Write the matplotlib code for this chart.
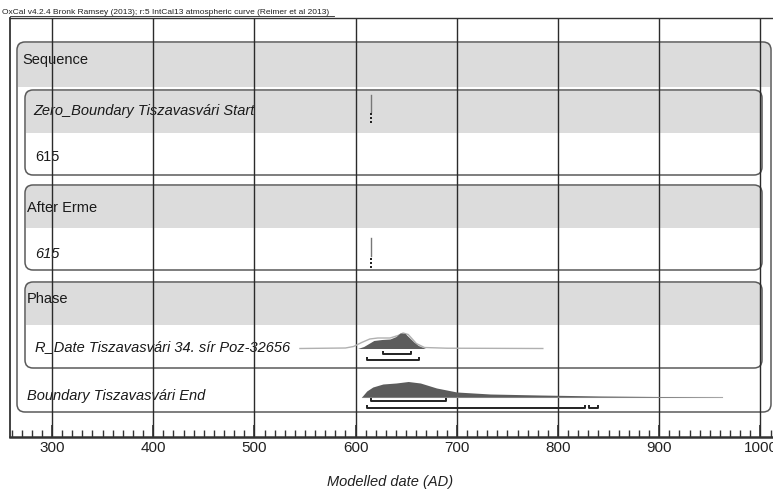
import matplotlib.pyplot as plt
from matplotlib.patches import FancyBboxPatch, Rectangle
import numpy as np

plt.rcParams['font.family'] = ['Liberation Sans', 'DejaVu Sans']

# ---- data ----
row_labels = ['Sequence', 'Zero_Boundary Tiszavasvári Start', '615', 'After Erme',
              '615', 'Phase', 'R_Date Tiszavasvári 34. sír Poz-32656',
              'Boundary Tiszavasvári End']
fixed_date = 615

# R_Date posterior (AD, relative height)
rdate_x = [602, 608, 613, 618, 626, 634, 640, 644, 649, 653, 658, 662, 669]
rdate_y = [0, 2, 5, 8, 9, 9.5, 12, 15.5, 15, 11, 6, 3, 0]
# R_Date unmodelled likelihood outline
rlik_x = [545, 590, 598, 606, 614, 622, 634, 642, 647, 652, 660, 668, 690, 785]
rlik_y = [0, 0.5, 2, 6, 9.5, 10.5, 10.5, 13, 15.5, 14, 5, 1, 0.3, 0]
rdate_ranges_68 = [(626.8, 654.7)]
rdate_ranges_95 = [(611.6, 662.6)]

# Boundary End posterior
bend_x = [606, 611, 617, 627, 640, 652, 664, 680, 700, 733, 782, 842, 900, 960]
bend_y = [0, 6, 10, 13, 14, 15.5, 14, 9, 5, 3, 2, 1, 0.5, 0]
bend_ranges_68 = [(615.2, 689.3)]
bend_ranges_95 = [(611.6, 826.7), (830.9, 839.2)]

W, H = 773, 492
fig = plt.figure(figsize=(W / 100, H / 100), dpi=100)
fig.patch.set_facecolor('white')

# background axes in pixel units for the OxCal layout boxes
bg = fig.add_axes([0, 0, 1, 1])
bg.set_xlim(0, W)
bg.set_ylim(H, 0)
bg.axis('off')

gray = '#dcdcdc'
edge = '#5a5a5a'


def rbox(x0, y0, x1, y1, r=8, lw=1.1):
    p = FancyBboxPatch((x0 + r, y0 + r), (x1 - x0) - 2 * r, (y1 - y0) - 2 * r,
                       boxstyle=f'round,pad={r},rounding_size={r}',
                       fc='none', ec=edge, lw=lw, zorder=3)
    bg.add_patch(p)


def band(x0, y0, x1, y1):
    bg.add_patch(Rectangle((x0 + 1, y0 + 1), x1 - x0 - 2, y1 - y0 - 1,
                           fc=gray, ec='none', zorder=1))


# grey header bands
band(17, 42, 771, 87)
band(25, 90, 762, 133)
band(25, 185, 762, 228)
band(25, 282, 762, 325)

# rounded group boxes
rbox(17, 42, 771, 412)
rbox(25, 90, 762, 175)
rbox(25, 185, 762, 270)
rbox(25, 282, 762, 368)

# row labels
label_pos = [(22, 60, 'normal'), (33, 111, 'italic'), (35, 157, 'normal'),
             (27, 208, 'normal'), (35, 254, 'italic'), (27, 299, 'normal'),
             (35, 347, 'italic'), (27, 396, 'italic')]
for txt, (lx, ly, st) in zip(row_labels, label_pos):
    bg.text(lx, ly, txt, fontsize=10.5, style=st, va='center', ha='left',
            color='#1a1a1a', zorder=5)

bg.text(2, 12, 'OxCal v4.2.4 Bronk Ramsey (2013); r:5 IntCal13 atmospheric curve (Reimer et al 2013)',
        fontsize=6.0, va='center', ha='left', color='#222222')
bg.plot([10, 334], [15.5, 15.5], color='#222222', lw=0.6)

bg.text(390, 482, 'Modelled date (AD)', fontsize=10.5, style='italic',
        color='#222222', ha='center', va='center')

# ---- data axes: x in AD, y in pixel rows ----
x_left = 300 + (10 - 52) / 1.012
x_right = 300 + (W - 52) / 1.012
ax = fig.add_axes([10 / W, (H - 437) / H, (W - 10) / W, (437 - 18) / H])
ax.set_xlim(x_left, x_right)
ax.set_ylim(437, 18)
ax.patch.set_alpha(0)
ax.spines['right'].set_visible(False)
ax.spines['top'].set_linewidth(1.0)
ax.spines['top'].set_color('#333333')
ax.spines['left'].set_linewidth(1.3)
ax.spines['left'].set_color('#333333')
ax.spines['bottom'].set_linewidth(1.8)
ax.spines['bottom'].set_color('#333333')

major = np.arange(300, 1001, 100)
ax.set_xticks(major)
ax.set_xticklabels([str(v) for v in major], fontsize=11, color='#222222')
ax.set_xticks(np.arange(260, 1011, 10), minor=True)
ax.tick_params(axis='x', which='major', direction='in', length=9, width=1.2,
               color='#333333', pad=3)
ax.tick_params(axis='x', which='minor', direction='in', length=5, width=1,
               color='#333333')
ax.set_yticks([])
for v in major:
    ax.axvline(v, color='#2b2b2b', lw=1.0, zorder=2)

dark = '#5c5c5c'


def dist(xs, ys, base, fill=True, **kw):
    ys = base - np.array(ys, dtype=float)
    if fill:
        ax.fill_between(xs, ys, base, color=dark, lw=0, zorder=4)
    else:
        ax.plot(xs, ys, **kw)


def brackets(ranges, y):
    for a, b in ranges:
        ax.plot([a, a, b, b], [y - 3, y, y, y - 3], color='#222222', lw=1.4,
                solid_capstyle='butt', zorder=5)


# fixed date spikes at 615
for top, mid in [(95, 112), (238, 256)]:
    ax.plot([fixed_date, fixed_date], [top, mid], color='#777777', lw=1.0, zorder=5)
    ax.plot([fixed_date] * 3, [mid + 2.5, mid + 6.5, mid + 10.5], ls='none',
            marker='s', ms=1.7, mew=0, color='#222222', zorder=5)

# R_Date
dist(rlik_x, rlik_y, 348.5, fill=False, color='#b0b0b0', lw=1.0, zorder=3)
dist(rdate_x, rdate_y, 348.5)
brackets(rdate_ranges_68, 354)
brackets(rdate_ranges_95, 360)

# Boundary End
dist(bend_x, bend_y, 397)
ax.plot([606, 962], [397, 397], color='#a8a8a8', lw=0.8, zorder=3)
brackets(bend_ranges_68, 401)
brackets(bend_ranges_95, 408)

fig.savefig('out.png', dpi=100)
